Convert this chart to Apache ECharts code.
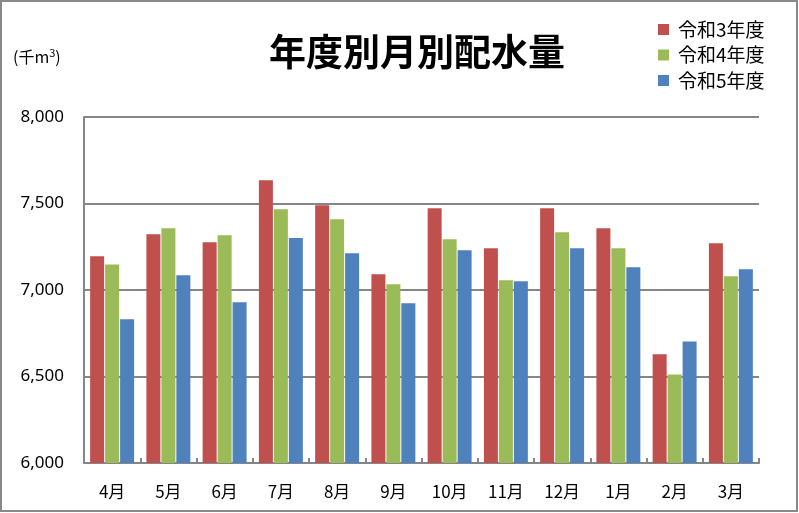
<!DOCTYPE html>
<html>
<head>
<meta charset="utf-8">
<script src="https://cdn.jsdelivr.net/npm/echarts@6/dist/echarts.min.js"></script>
<style>
html,body{margin:0;padding:0;background:#fff;}
#chart{width:799px;height:513px;}
</style>
</head>
<body>
<div id="chart"></div>
<script>
const categories = ['4月','5月','6月','7月','8月','9月','10月','11月','12月','1月','2月','3月'];
const seriesNames = ['令和3年度','令和4年度','令和5年度'];
const r3 = [7195, 7322, 7276, 7635, 7490, 7091, 7473, 7241, 7473, 7357, 6628, 7270];
const r4 = [7148, 7357, 7316, 7467, 7409, 7033, 7293, 7056, 7334, 7241, 6512, 7079];
const r5 = [6831, 7085, 6929, 7300, 7212, 6923, 7230, 7050, 7241, 7131, 6703, 7120];
const colors = ['#C0504D', '#9BBB59', '#4F81BD'];
const titleText = '年度別月別配水量';

const chart = echarts.init(document.getElementById('chart'), null, {renderer: 'canvas'});
const cjk = '"Noto Sans CJK JP", "Noto Sans", sans-serif';
const data = [r3, r4, r5];

chart.setOption({
  animation: false,
  backgroundColor: '#fff',
  color: colors,
  grid: {left: 84, right: 40, top: 117, bottom: 50, containLabel: false},
  legend: {
    orient: 'vertical',
    left: 658,
    top: 20,
    padding: 0,
    itemWidth: 11,
    itemHeight: 11,
    itemGap: 6.5,
    icon: 'rect',
    textStyle: {fontFamily: cjk, fontSize: 19, color: '#000', lineHeight: 19, padding: [0, 0, 0, 4]},
    data: seriesNames
  },
  xAxis: {
    type: 'category',
    data: categories,
    axisLine: {show: true, lineStyle: {color: '#868686', width: 2}},
    axisTick: {show: true, inside: true, length: 5, lineStyle: {color: '#868686', width: 2}},
    axisLabel: {fontFamily: cjk, fontSize: 17, color: '#000', margin: 20}
  },
  yAxis: {
    type: 'value',
    min: 6000,
    max: 8000,
    interval: 500,
    axisLine: {show: true, lineStyle: {color: '#868686', width: 2}},
    axisTick: {show: false},
    splitLine: {show: true, lineStyle: {color: '#868686', width: 2}},
    axisLabel: {
      fontFamily: '"Noto Sans", sans-serif', fontSize: 17, color: '#000', margin: 20,
      formatter: v => v.toLocaleString('en-US')
    }
  },
  series: seriesNames.map((n, i) => ({
    name: n,
    type: 'bar',
    data: data[i],
    barWidth: 14,
    barGap: '7%',
    itemStyle: {color: colors[i]}
  })),
  graphic: [
    {type: 'rect', shape: {x: 1, y: 1, width: 796, height: 510}, style: {fill: 'none', stroke: '#898989', lineWidth: 2}, silent: true},
    {type: 'text', x: 417, y: 52, style: {text: titleText, fontFamily: cjk, fontSize: 37, fontWeight: 'bold', fill: '#000', align: 'center', verticalAlign: 'middle'}},
    {type: 'text', x: 13, y: 57, style: {
      text: '{a|(千m}{s|3}{a|)}',
      fontFamily: cjk, fill: '#000', align: 'left', verticalAlign: 'middle',
      rich: {
        a: {fontFamily: cjk, fontSize: 16, lineHeight: 20, fill: '#000'},
        s: {fontFamily: cjk, fontSize: 11, lineHeight: 20, fill: '#000', verticalAlign: 'top', padding: [0, 0, 6, 0]}
      }
    }}
  ]
});
</script>
</body>
</html>
